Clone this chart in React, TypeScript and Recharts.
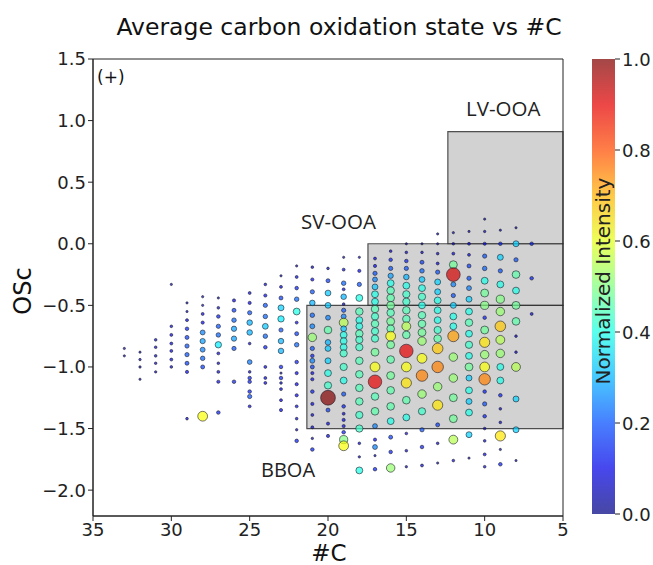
import React from 'react';
import { ScatterChart, Scatter, XAxis, YAxis, ReferenceArea } from 'recharts';

// [OSc, normalized intensity] per carbon number
const carbonColumns: { c: number; pts: [number, number][] }[] = [
  { c: 33, pts: [[-0.85, 0.05], [-0.91, 0.05]] },
  { c: 32, pts: [[-0.88, 0.05], [-0.94, 0.06], [-1.0, 0.06], [-1.1, 0.05]] },
  { c: 31, pts: [[-0.78, 0.08], [-0.84, 0.08], [-0.91, 0.08], [-0.97, 0.07], [-1.04, 0.06]] },
  { c: 30, pts: [[-0.33, 0.05], [-0.67, 0.08], [-0.74, 0.1], [-0.81, 0.1], [-0.87, 0.1], [-0.94, 0.1], [-1.0, 0.08]] },
  { c: 29, pts: [[-0.48, 0.05], [-0.55, 0.05], [-0.62, 0.1], [-0.69, 0.15], [-0.76, 0.18], [-0.83, 0.2], [-0.9, 0.2], [-0.97, 0.18], [-1.04, 0.12], [-1.42, 0.08]] },
  { c: 28, pts: [[-0.43, 0.05], [-0.5, 0.05], [-0.57, 0.1], [-0.64, 0.12], [-0.72, 0.25], [-0.79, 0.28], [-0.86, 0.25], [-0.93, 0.22], [-1.0, 0.18], [-1.4, 0.62]] },
  { c: 27, pts: [[-0.44, 0.05], [-0.52, 0.08], [-0.59, 0.15], [-0.67, 0.2], [-0.74, 0.22], [-0.82, 0.36], [-0.89, 0.1], [-0.97, 0.08], [-1.04, 0.1], [-1.12, 0.12], [-1.37, 0.15]] },
  { c: 26, pts: [[-0.46, 0.12], [-0.54, 0.18], [-0.62, 0.22], [-0.69, 0.28], [-0.77, 0.28], [-0.85, 0.2], [-1.12, 0.15]] },
  { c: 25, pts: [[-0.4, 0.1], [-0.48, 0.12], [-0.56, 0.2], [-0.64, 0.3], [-0.72, 0.3], [-0.81, 0.08], [-0.96, 0.24], [-1.04, 0.08], [-1.09, 0.15], [-1.12, 0.15], [-1.2, 0.15], [-1.24, 0.2], [-1.32, 0.1]] },
  { c: 24, pts: [[-0.33, 0.08], [-0.42, 0.12], [-0.5, 0.2], [-0.59, 0.22], [-0.67, 0.32], [-0.75, 0.22], [-0.84, 0.15], [-1.0, 0.1], [-1.09, 0.1], [-1.13, 0.1]] },
  { c: 23, pts: [[-0.26, 0.05], [-0.35, 0.1], [-0.44, 0.18], [-0.52, 0.33], [-0.61, 0.36], [-0.7, 0.2], [-0.79, 0.3], [-0.87, 0.3], [-1.0, 0.15], [-1.05, 0.05], [-1.09, 0.15], [-1.13, 0.08], [-1.18, 0.1], [-1.27, 0.1], [-1.35, 0.12]] },
  { c: 22, pts: [[-0.18, 0.05], [-0.27, 0.1], [-0.36, 0.15], [-0.45, 0.22], [-0.55, 0.4], [-0.64, 0.1], [-0.73, 0.18], [-0.82, 0.22], [-0.96, 0.15], [-1.05, 0.12], [-1.14, 0.12], [-1.23, 0.12], [-1.32, 0.1], [-1.42, 0.08], [-1.51, 0.06], [-1.6, 0.15]] },
  { c: 21, pts: [[-0.19, 0.08], [-0.29, 0.12], [-0.39, 0.2], [-0.48, 0.3], [-0.58, 0.22], [-0.67, 0.25], [-0.76, 0.52], [-0.85, 0.2], [-0.91, 0.15], [-0.95, 0.25], [-1.0, 0.18], [-1.05, 0.12], [-1.1, 0.12], [-1.2, 0.15], [-1.3, 0.12], [-1.39, 0.1], [-1.49, 0.1], [-1.58, 0.06], [-1.67, 0.15]] },
  { c: 20, pts: [[-0.2, 0.08], [-0.3, 0.18], [-0.4, 0.32], [-0.5, 0.32], [-0.6, 0.25], [-0.7, 0.46], [-0.8, 0.3], [-0.85, 0.32], [-0.95, 0.33], [-1.05, 0.4], [-1.15, 0.43], [-1.25, 1.0], [-1.35, 0.18], [-1.46, 0.12], [-1.56, 0.12]] },
  { c: 19, pts: [[-0.11, 0.05], [-0.21, 0.1], [-0.32, 0.22], [-0.37, 0.1], [-0.43, 0.3], [-0.49, 0.08], [-0.54, 0.2], [-0.59, 0.25], [-0.64, 0.55], [-0.69, 0.32], [-0.74, 0.4], [-0.79, 0.4], [-0.84, 0.4], [-0.89, 0.43], [-1.0, 0.43], [-1.11, 0.4], [-1.22, 0.2], [-1.32, 0.15], [-1.38, 0.1], [-1.43, 0.12], [-1.48, 0.12], [-1.53, 0.15], [-1.59, 0.5], [-1.64, 0.62]] },
  { c: 18, pts: [[-0.11, 0.05], [-0.22, 0.12], [-0.33, 0.2], [-0.44, 0.4], [-0.55, 0.45], [-0.62, 0.4], [-0.67, 0.4], [-0.73, 0.45], [-0.78, 0.43], [-0.84, 0.43], [-0.95, 0.45], [-1.06, 0.45], [-1.17, 0.45], [-1.28, 0.45], [-1.39, 0.43], [-1.5, 0.43], [-1.62, 0.08], [-1.73, 0.06], [-1.84, 0.4]] },
  { c: 17, pts: [[-0.12, 0.1], [-0.18, 0.12], [-0.24, 0.2], [-0.29, 0.25], [-0.35, 0.32], [-0.41, 0.4], [-0.47, 0.4], [-0.53, 0.45], [-0.59, 0.43], [-0.65, 0.45], [-0.71, 0.43], [-0.77, 0.43], [-0.88, 0.48], [-1.0, 0.62], [-1.12, 0.9], [-1.24, 0.45], [-1.36, 0.46], [-1.48, 0.25], [-1.59, 0.12], [-1.65, 0.25], [-1.72, 0.05], [-1.83, 0.15]] },
  { c: 16, pts: [[-0.06, 0.08], [-0.13, 0.15], [-0.2, 0.2], [-0.26, 0.28], [-0.32, 0.4], [-0.38, 0.45], [-0.44, 0.46], [-0.5, 0.48], [-0.56, 0.45], [-0.63, 0.48], [-0.69, 0.46], [-0.75, 0.62], [-0.82, 0.48], [-0.94, 0.46], [-1.07, 0.48], [-1.19, 0.46], [-1.32, 0.46], [-1.44, 0.4], [-1.57, 0.18], [-1.69, 0.15], [-1.82, 0.52]] },
  { c: 15, pts: [[0.0, 0.05], [-0.07, 0.08], [-0.14, 0.15], [-0.2, 0.2], [-0.27, 0.3], [-0.34, 0.4], [-0.41, 0.43], [-0.47, 0.43], [-0.54, 0.45], [-0.61, 0.45], [-0.67, 0.55], [-0.74, 0.46], [-0.87, 0.9], [-1.0, 0.62], [-1.13, 0.65], [-1.27, 0.46], [-1.41, 0.4], [-1.54, 0.08], [-1.68, 0.08], [-1.81, 0.06]] },
  { c: 14, pts: [[0.0, 0.05], [-0.07, 0.08], [-0.15, 0.18], [-0.22, 0.22], [-0.29, 0.32], [-0.36, 0.4], [-0.43, 0.43], [-0.5, 0.4], [-0.58, 0.45], [-0.65, 0.46], [-0.72, 0.48], [-0.79, 0.52], [-0.93, 0.62], [-1.07, 0.75], [-1.22, 0.52], [-1.36, 0.43], [-1.51, 0.2], [-1.65, 0.15], [-1.8, 0.1]] },
  { c: 13, pts: [[0.08, 0.05], [0.0, 0.05], [-0.08, 0.08], [-0.16, 0.1], [-0.23, 0.2], [-0.31, 0.33], [-0.39, 0.33], [-0.46, 0.4], [-0.54, 0.4], [-0.62, 0.4], [-0.7, 0.43], [-0.77, 0.46], [-0.85, 0.68], [-1.0, 0.75], [-1.16, 0.52], [-1.31, 0.65], [-1.47, 0.18], [-1.62, 0.08], [-1.78, 0.05]] },
  { c: 12, pts: [[0.09, 0.05], [0.0, 0.08], [-0.08, 0.1], [-0.17, 0.48], [-0.25, 0.92], [-0.33, 0.25], [-0.42, 0.2], [-0.5, 0.33], [-0.59, 0.4], [-0.67, 0.4], [-0.75, 0.72], [-0.92, 0.52], [-1.09, 0.52], [-1.25, 0.48], [-1.42, 0.48], [-1.59, 0.55], [-1.76, 0.08]] },
  { c: 11, pts: [[0.1, 0.05], [0.0, 0.1], [-0.09, 0.1], [-0.18, 0.18], [-0.28, 0.2], [-0.36, 0.25], [-0.45, 0.33], [-0.55, 0.4], [-0.64, 0.45], [-0.73, 0.4], [-0.82, 0.43], [-0.91, 0.4], [-1.0, 0.48], [-1.09, 0.33], [-1.19, 0.4], [-1.28, 0.33], [-1.37, 0.4], [-1.55, 0.33], [-1.74, 0.05]] },
  { c: 10, pts: [[0.2, 0.05], [0.1, 0.06], [0.0, 0.12], [-0.1, 0.2], [-0.2, 0.22], [-0.3, 0.4], [-0.4, 0.48], [-0.5, 0.5], [-0.6, 0.15], [-0.7, 0.48], [-0.8, 0.65], [-0.9, 0.52], [-1.0, 0.62], [-1.1, 0.75], [-1.2, 0.15], [-1.3, 0.2], [-1.4, 0.15], [-1.5, 0.08], [-1.6, 0.08], [-1.71, 0.1], [-1.81, 0.08]] },
  { c: 9, pts: [[0.11, 0.05], [0.0, 0.15], [-0.11, 0.33], [-0.22, 0.2], [-0.33, 0.4], [-0.45, 0.5], [-0.55, 0.52], [-0.67, 0.68], [-0.78, 0.55], [-0.89, 0.52], [-1.0, 0.4], [-1.11, 0.4], [-1.23, 0.15], [-1.34, 0.08], [-1.45, 0.08], [-1.56, 0.65], [-1.67, 0.05], [-1.79, 0.15]] },
  { c: 8, pts: [[0.13, 0.05], [0.0, 0.33], [-0.13, 0.2], [-0.25, 0.46], [-0.38, 0.4], [-0.5, 0.48], [-0.63, 0.46], [-0.75, 0.08], [-0.88, 0.08], [-1.0, 0.55], [-1.26, 0.33], [-1.51, 0.33], [-1.76, 0.05]] },
  { c: 7, pts: [[0.0, 0.15], [-0.28, 0.15], [-0.57, 0.1]] },
];

const regions = [
  { name: 'BBOA', x1: 21.35, x2: 5, y1: -1.5, y2: -0.5 },
  { name: 'SV-OOA', x1: 17.45, x2: 5, y1: -0.5, y2: 0 },
  { name: 'LV-OOA', x1: 12.35, x2: 5, y1: 0, y2: 0.91 },
];

const xTicks = [35, 30, 25, 20, 15, 10, 5];
const yTicks = [-2, -1.5, -1, -0.5, 0, 0.5, 1, 1.5];
const cbarTicks = [0, 0.2, 0.4, 0.6, 0.8, 1.0];

const points = carbonColumns.flatMap(col => col.pts.map(([osc, v]) => ({ c: col.c, osc, v })));

const jet = (v: number) => {
  const f = (x: number) => Math.max(0, Math.min(1, 1.5 - Math.abs(x)));
  const r = Math.round(f(4 * v - 3) * 255);
  const g = Math.round(f(4 * v - 2) * 255);
  const b = Math.round(f(4 * v - 1) * 255);
  return `rgb(${r},${g},${b})`;
};

const fmt = (n: number) => (n < 0 ? '\u2212' + Math.abs(n).toFixed(1) : n.toFixed(1));

const Dot = (props: any) => {
  const { cx, cy, payload } = props;
  if (cx == null || cy == null) return null;
  const r = 0.8 + 6.6 * payload.v;
  return (
    <circle cx={cx} cy={cy} r={r} fill={jet(payload.v)} fillOpacity={0.7}
      stroke="#1c1c2a" strokeOpacity={0.75} strokeWidth={0.8} />
  );
};

const font = 'DejaVu Sans, sans-serif';
const annFont = '"Open Sans", sans-serif';

const CB_TOP = 59;
const CB_BOTTOM = 514;

const App: React.FC = () => {
  const gradStops = Array.from({ length: 11 }, (_, i) => i / 10);
  return (
    <div style={{ position: 'absolute', left: 0, top: 0, width: 653, height: 565, background: '#fff', fontFamily: font }}>
      <ScatterChart width={653} height={565} margin={{ top: 59, right: 90, left: 33, bottom: 0 }}>
        <XAxis type="number" dataKey="c" domain={[5, 35]} reversed ticks={xTicks}
          height={49} tick={{ fill: '#222', fontSize: 18, fontFamily: font }}
          tickLine={{ stroke: '#222' }} axisLine={{ stroke: '#222' }} tickSize={5} allowDataOverflow />
        <YAxis type="number" dataKey="osc" domain={[-2.21, 1.5]} ticks={yTicks} width={60}
          tickFormatter={fmt} tick={{ fill: '#222', fontSize: 18, fontFamily: font }}
          tickLine={{ stroke: '#222' }} axisLine={{ stroke: '#222' }} tickSize={5} allowDataOverflow />
        <Scatter data={points} shape={Dot} isAnimationActive={false} />
        {regions.map(r => (
          <ReferenceArea key={r.name} x1={r.x1} x2={r.x2} y1={r.y1} y2={r.y2}
            fill="#888" fillOpacity={0.38} stroke="#333" strokeOpacity={0.85} strokeWidth={1.2} />
        ))}
        <ReferenceArea x1={5} x2={35} y1={-2.21} y2={1.5} fill="none" stroke="#222" strokeWidth={1} ifOverflow="visible" />
      </ScatterChart>

      <svg width={653} height={565} style={{ position: 'absolute', left: 0, top: 0, pointerEvents: 'none' }}>
        <defs>
          <linearGradient id="jetgrad" x1="0" y1="1" x2="0" y2="0">
            {gradStops.map(s => (
              <stop key={s} offset={`${s * 100}%`} stopColor={jet(s)} stopOpacity={0.72} />
            ))}
          </linearGradient>
        </defs>
        <text x={339} y={35} textAnchor="middle" fontSize={23.5} fill="#111" fontFamily={font}>
          Average carbon oxidation state vs #C
        </text>
        <text x={329} y={561} textAnchor="middle" fontSize={23} fill="#111" fontFamily={font}>#C</text>
        <text transform="translate(31,291) rotate(-90)" textAnchor="middle" fontSize={24} fill="#111" fontFamily={font}>OSc</text>
        <text x={97} y={83} fontSize={17} fill="#111" fontFamily={font}>(+)</text>
        <text x={466} y={116} fontSize={20.5} fill="#222" fontFamily={annFont}>LV-OOA</text>
        <text x={301} y={229} fontSize={20.5} fill="#222" fontFamily={annFont}>SV-OOA</text>
        <text x={261} y={477} fontSize={20} fill="#222" fontFamily={annFont}>BBOA</text>

        <rect x={592} y={CB_TOP} width={23} height={CB_BOTTOM - CB_TOP} fill="url(#jetgrad)" />
        {cbarTicks.map(t => {
          const y = CB_BOTTOM - t * (CB_BOTTOM - CB_TOP);
          return (
            <g key={t}>
              <line x1={615} x2={620} y1={y} y2={y} stroke="#222" />
              <text x={622} y={y + 6.5} fontSize={18} fill="#222" fontFamily={font}>{t.toFixed(1)}</text>
            </g>
          );
        })}
        <text transform="translate(610,281) rotate(-90)" textAnchor="middle" fontSize={20} fill="#222" fontFamily={font}>
          Normalized Intensity
        </text>
      </svg>
    </div>
  );
};

export default App;
